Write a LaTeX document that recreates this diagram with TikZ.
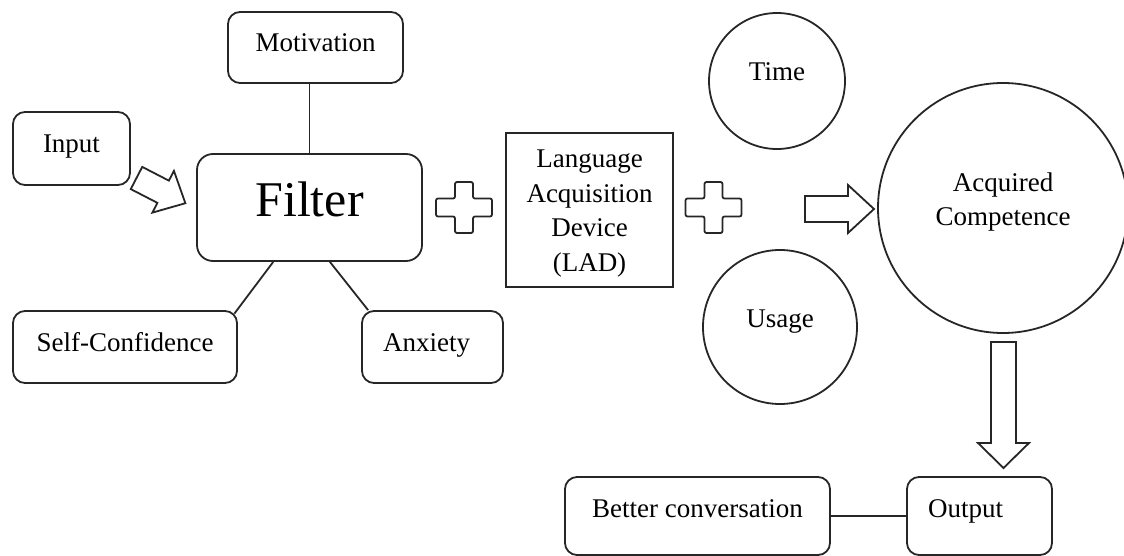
\documentclass[tikz,border=0pt]{standalone}
\usepackage{fontspec}
\setmainfont{Liberation Serif}
\usetikzlibrary{calc}

% hollow block arrow: tail point, angle, length, shaft half-width, head half-width, head length
\newcommand\blockarrow[6]{%
  \draw[outline, shift={#1}, rotate=#2]
    (0,-#4) -- ({#3-#6},-#4) -- ({#3-#6},-#5) -- (#3,0) -- ({#3-#6},#5) -- ({#3-#6},#4) -- (0,#4) -- cycle;}
% hollow plus sign centred on a point
\newcommand\plusmark[1]{%
  \draw[outline, shift={#1}, rounded corners=1pt]
    (-9,-25.5) -- (9,-25.5) -- (9,-9) -- (28,-9) -- (28,9) -- (9,9) -- (9,25.5)
    -- (-9,25.5) -- (-9,9) -- (-28,9) -- (-28,-9) -- (-9,-9) -- cycle;}

\begin{document}
\begin{tikzpicture}[x=0.5pt, y=-0.5pt,
  every node/.style={font=\fontsize{13.5}{17.25}\selectfont, text=black},
  outline/.style={draw=black!85, line width=0.9pt},
  rbox/.style={outline, rounded corners=6pt, inner sep=0pt, text height=9pt, text depth=5pt},
  lowbox/.style={rbox, text height=9pt, text depth=8pt},
  circ/.style={outline, circle, inner sep=0pt, text height=9pt, text depth=9pt},
  sqbox/.style={outline, inner sep=0pt}]
\useasboundingbox (0,0) rectangle (1124,556);

% filter and its factors
\node[rbox, minimum width=58.5pt, minimum height=36.5pt] (input) at (71.5,148.5) {Input};
\node[rbox, minimum width=87.5pt, minimum height=35.5pt] (motiv) at (315.5,47.5) {Motivation};
\node[rbox, rounded corners=8pt, minimum width=112.5pt, minimum height=53.5pt,
      font=\fontsize{25}{30}\selectfont, text height=17pt, text depth=8pt] (filter) at (309.5,207.5) {Filter};
\node[rbox, minimum width=112pt, minimum height=36pt] (selfconf) at (125,347) {Self-Confidence};
\node[rbox, minimum width=70.5pt, minimum height=36pt] (anxiety) at (432.5,347) {Anxiety\hspace*{6pt}};

% language acquisition device
\node[sqbox, minimum width=83.5pt, minimum height=77pt] (lad) at (589.5,210) {};
\node[align=center, inner sep=0pt] (ladtext) at ([yshift=-1.8pt]lad.center) {Language\\Acquisition\\Device\\(LAD)};

% time, usage and the result
\node[circ, minimum size=68pt] (time) at (777,81) {Time};
\node[circ, minimum size=77pt] (usage) at (780,327) {Usage};
\node[circ, minimum size=125pt] (acq) at (1003,208) {};
\node[align=center, inner sep=0pt] (acqtext) at ([yshift=3pt]acq.center) {Acquired\\Competence};

% output
\node[lowbox, minimum width=132.5pt, minimum height=39pt] (better) at (697.5,516) {Better conversation};
\node[lowbox, minimum width=72.5pt, minimum height=39pt] (output) at (979.5,516) {Output\hspace*{14pt}};

% plain connectors
\draw[outline] (filter.north) -- (filter.north |- motiv.south);
\coordinate (fsl) at ($(filter.south west)!0.34!(filter.south east)$);
\coordinate (fsr) at ($(filter.south west)!0.59!(filter.south east)$);
\draw[outline] (fsl) -- ([shift={(-3.5,3.5)}]selfconf.north east);
\draw[outline] (fsr) -- ([xshift=3.5pt]anxiety.north west);
\draw[outline] (better) -- (output);

% plus signs
\coordinate (plusA) at (464,207.5);
\coordinate (plusB) at (713.5,207.5);
\plusmark{(plusA)}
\plusmark{(plusB)}

% block arrows
\coordinate (arrIn) at (136.5,178);
\coordinate (arrAcq) at (805,209);
\coordinate (arrOut) at (1003.5,342);
\blockarrow{(arrIn)}{-27.3}{55}{12.5}{23.5}{25}
\blockarrow{(arrAcq)}{0}{69}{13}{24}{26}
\blockarrow{(arrOut)}{-90}{126}{12.5}{25.5}{25}
\end{tikzpicture}
\end{document}
